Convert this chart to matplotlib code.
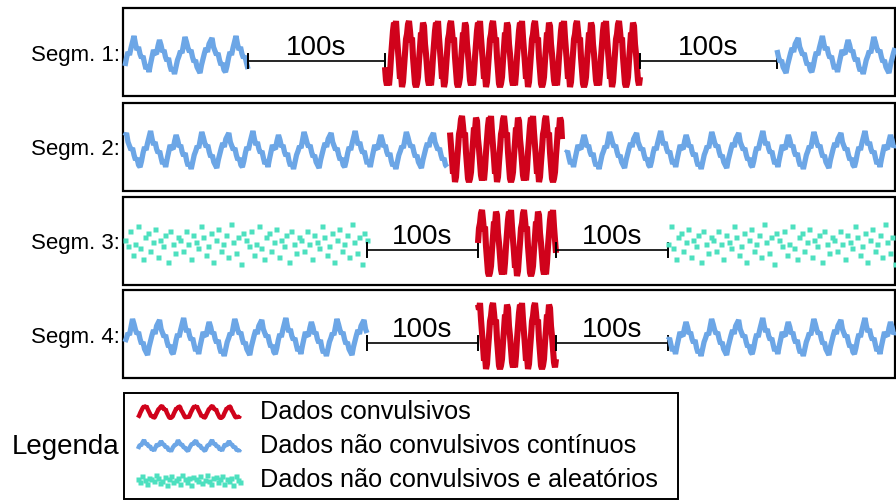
import numpy as np
import matplotlib.pyplot as plt
from matplotlib.patches import Rectangle

plt.rcParams['font.family'] = ['Liberation Sans', 'DejaVu Sans']

# hand-read signal shapes (normalised amplitude, one sample per step)
blue_wave = [-0.5, -0.1, 0.2, 0.05, 0.4, 0.7, 1.0, 0.6, 0.3, 0.45, 0.1, -0.1, 0.0, -0.35, -0.65, -0.45, -0.8,
             -0.4, -0.05, 0.3, 0.15, 0.1, 0.5, 0.8, 0.55, 0.2, 0.3, -0.05, -0.25, -0.1, -0.5, -0.75, -0.6, -0.9,
             -0.55, -0.2, 0.0, 0.25, 0.15, 0.55, 0.95, 0.7, 0.4, 0.2, 0.3, -0.05, -0.3, -0.2, -0.55, -0.7, -0.85,
             -0.45, -0.15, 0.15, 0.4, 0.2, 0.6, 0.75, 0.9, 0.45, 0.25, 0.05, 0.15, -0.2, -0.45, -0.35, -0.7, -0.8]
red_wave = [-0.95, -0.6, -0.1, 0.3, 0.7, 0.95, 0.8, 1.0, 0.5, 0.1, -0.3, -0.75, -0.6, -1.0,
            -0.85, -0.4, 0.0, 0.45, 0.6, 0.9, 1.0, 0.7, 0.35, 0.5, -0.1, -0.5, -0.9, -1.0,
            -0.9, -0.7, -0.2, 0.2, 0.65, 0.55, 0.95, 0.85, 0.3, 0.0, -0.4, -0.8, -0.95, -0.7]
green_dots = [0.2, -0.3, 0.6, 0.0, -0.7, 0.4, 0.1, -0.2, 0.8, 0.3, -0.5, -0.1, 0.5, -0.8,
              0.2, 0.7, -0.3, 0.0, 0.4, -0.6, 0.9, 0.1, -0.4, 0.3, -0.9, 0.5, 0.2, -0.1,
              0.6, -0.5, 0.0, 0.8, -0.2, -0.7, 0.3, 0.5, -0.3, 0.1, 0.7, -0.6, 0.2, -0.1,
              0.4, -0.8, 0.6, 0.0, -0.4, 0.3]

row_labels = ['Segm. 1:', 'Segm. 2:', 'Segm. 3:', 'Segm. 4:']
gap_label = '100s'
legend_labels = ['Dados convulsivos', 'Dados não convulsivos contínuos',
                 'Dados não convulsivos e aleatórios']

# pieces of each row: (kind, start, end)
rows = [
    [('blue', 125, 248), ('gap', 248, 385), ('red', 385, 640), ('gap', 640, 777), ('blue', 777, 895)],
    [('blue', 125, 447), ('red', 450, 562), ('blue', 566, 895)],
    [('green', 125, 367), ('gap', 367, 478), ('red', 478, 556), ('gap', 556, 668), ('green', 668, 895)],
    [('blue', 125, 367), ('gap', 367, 478), ('red', 478, 556), ('gap', 556, 668), ('blue', 668, 895)],
]

colors = {'red': '#d0021b', 'blue': '#6ca6e6', 'green': '#4de0bf'}
shapes = {'red': red_wave, 'blue': blue_wave, 'green': green_dots}
step = {'red': 1.0, 'blue': 1.5, 'green': 2.5}
amp = {'red': 33, 'blue': 20, 'green': 22}
widths = {'red': 4.4, 'blue': 3.8, 'green': 0}
offset = {'red': 2, 'blue': 4, 'green': 3}

fig = plt.figure(figsize=(8.96, 5.01), dpi=100)
ax = fig.add_axes([0, 0, 1, 1])
ax.set_xlim(0, 896)
ax.set_ylim(501, 0)
ax.axis('off')


def draw_signal(kind, x0, x1, yc, a, dx, shift=0, lw=None):
    n = int((x1 - x0) / dx) + 1
    vals = np.resize(np.roll(shapes[kind], shift), n)
    xs = np.linspace(x0, x1, n)
    if kind == 'green':
        ax.plot(xs, yc - a * vals, 's', ms=3.6, color=colors[kind], mec='none')
    else:
        ax.plot(xs, yc - a * vals, '-', lw=lw or widths[kind], color=colors[kind],
                solid_joinstyle='bevel', solid_capstyle='butt')


box_tops = [8, 103, 197, 290]
box_h = 88
for i, (top, pieces) in enumerate(zip(box_tops, rows)):
    ax.add_patch(Rectangle((123, top), 772, box_h, fill=False, ec='black', lw=1.6))
    yc = top + box_h / 2
    ax.text(120, yc + 3, row_labels[i], ha='right', va='center', fontsize=16)
    for j, (kind, x0, x1) in enumerate(pieces):
        if kind == 'gap':
            yl = yc + 9
            ax.plot([x0, x1], [yl, yl], color='black', lw=1.2)
            ax.plot([x0, x0], [yl - 7, yl + 7], color='black', lw=1.4)
            ax.plot([x1, x1], [yl - 7, yl + 7], color='black', lw=1.4)
            ax.text((x0 + x1) / 2, yl - 6, gap_label, ha='center', va='baseline', fontsize=20)
        else:
            draw_signal(kind, x0, x1, yc + offset[kind], amp[kind], step[kind],
                        shift=11 * i + 23 * j)

# legend
ax.add_patch(Rectangle((124, 393), 554, 106, fill=False, ec='black', lw=1.4))
ax.text(12, 447, 'Legenda', ha='left', va='center', fontsize=20)
leg_step = {'red': 1.2, 'blue': 1.0, 'green': 2.2}
for k, (kind, lab) in enumerate(zip(['red', 'blue', 'green'], legend_labels)):
    yc = 412 + 34 * k
    draw_signal(kind, 138, 240, yc, 6, leg_step[kind], lw=3.2)
    ax.text(260, yc, lab, ha='left', va='center', fontsize=18.2)

fig.savefig('out.png', dpi=100)
